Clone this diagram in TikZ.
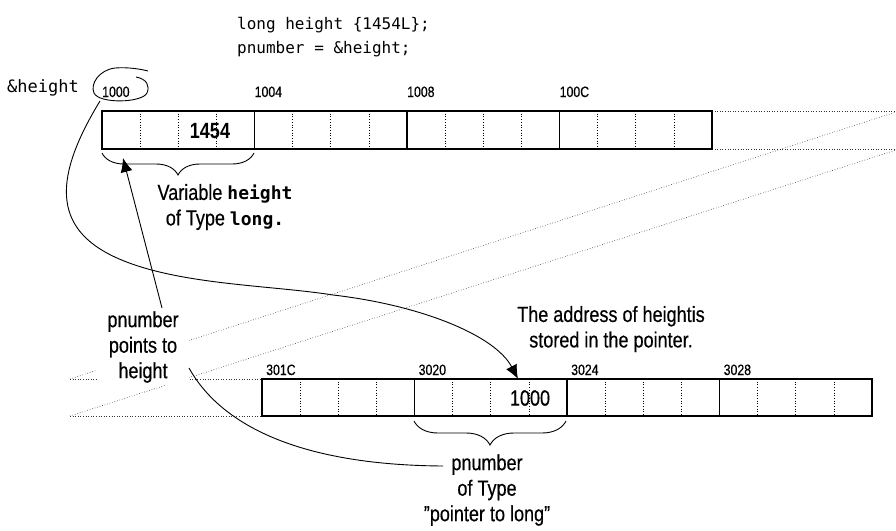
\documentclass[tikz,border=0pt]{standalone}
\usepackage{fontspec}
\setmainfont{Liberation Sans}[FakeStretch=0.82,UprightFeatures={FakeBold=0.4}]
\newfontfamily\codefont{DejaVu Sans Mono}
\usetikzlibrary{arrows.meta,decorations.pathreplacing}
\tikzset{
  cellrow/.style={line width=1.1pt},
  bytesep/.style={dotted,line width=0.7pt},
  guide/.style={dotted,line width=0.6pt,black!80},
  addr/.style={anchor=base west,inner sep=0pt,font=\fontsize{15}{17}\selectfont},
  codeline/.style={anchor=base west,inner sep=0pt,font=\codefont\fontsize{16}{20}\selectfont},
  note/.style={align=center,font=\fontsize{22}{25.5}\selectfont},
  link/.style={line width=0.9pt},
  bighead/.style={-{Latex[length=14pt,width=12pt]}},
}
\newcommand{\cd}[1]{{\codefont\bfseries\fontsize{18}{25}\selectfont #1}}
\begin{document}
\begin{tikzpicture}[x=1pt,y=-1pt]
\useasboundingbox(0,0)rectangle(896,530);
% memory goes on from the upper row to the lower one
\draw[guide](712,111)--(896,111)(712,149)--(896,149);
\draw[guide](70,379)--(262,379)(70,416)--(262,416);
\draw[guide](70,379)--(896,112)(70,416)--(896,150);
% code
\node[codeline](code1)at(237,29){long height \{1454L\};};
\node[codeline](code2)at(237,53){pnumber = \&height;};
\node[anchor=base west,inner sep=0pt,font=\codefont\fontsize{17}{20}\selectfont](refop)at(7,92){\&height};
% upper row
\foreach \b [count=\i from 0] in {1000,1004,1008,100C}{
  \draw[cellrow](102+152.5*\i,111)rectangle++(152.5,38);
  \foreach \k in {1,2,3}\draw[bytesep](102+152.5*\i+38.125*\k,111)--++(0,38);
  \node[addr](a\b)at(102+152.5*\i,97){\b};
}
\node[font=\bfseries\fontsize{22}{24}\selectfont](v1454)at(210,131){1454};
% lower row
\foreach \b [count=\i from 0] in {301C,3020,3024,3028}{
  \draw[cellrow](262+152.5*\i,379)rectangle++(152.5,37);
  \foreach \k in {1,2,3}\draw[bytesep](262+152.5*\i+38.125*\k,379)--++(0,37);
  \node[addr](a\b)at(266+152.5*\i,375){\b};
}
\node[font=\fontsize{22}{24}\selectfont](v1000)at(530,398){1000};
% braces
\draw[link,decorate,decoration={brace,mirror,amplitude=22pt}](102,153)--(254,153);
\draw[link,decorate,decoration={brace,mirror,amplitude=24pt}](414,421)--(566,421);
% labels
\node[note](vartype)at(225,207){Variable \cd{height}\\of Type \cd{long.}};
\node[note,fill=white,inner xsep=10pt,inner ysep=2pt](ptsto)at(143,347){pnumber\\points to\\height};
\node[note](addrnote)at(611,329){The address of heightis\\stored in the pointer.};
\node[note](ptrtype)at(487,490){pnumber\\of Type\\"pointer to long"};
% arrows
\coordinate(circ)at(100,101);
\coordinate(ptrcell)at(518,379);
\coordinate(hgt)at(123,158);
\coordinate(ptstail)at(162,308);
\coordinate(ptsfoot)at(189,368);
\coordinate(ptrname)at(443,466);
\draw[link](136,77)..controls(147,79)and(150,86)..(147,93)..controls(142,103)and(99,104)..(94,93)..controls(90,84)and(99,70)..(115,68)..controls(128,67)and(140,69)..(148,71);
\draw[link,bighead](circ)..controls(55,175)and(50,228)..(117,258)..controls(177,285)and(270,285)..(333,295)..controls(420,305)and(495,335)..(ptrcell);
\draw[link,bighead](ptstail)--(hgt);
\draw[link](ptsfoot)..controls(218,420)and(290,465)..(ptrname);
\end{tikzpicture}
\end{document}
